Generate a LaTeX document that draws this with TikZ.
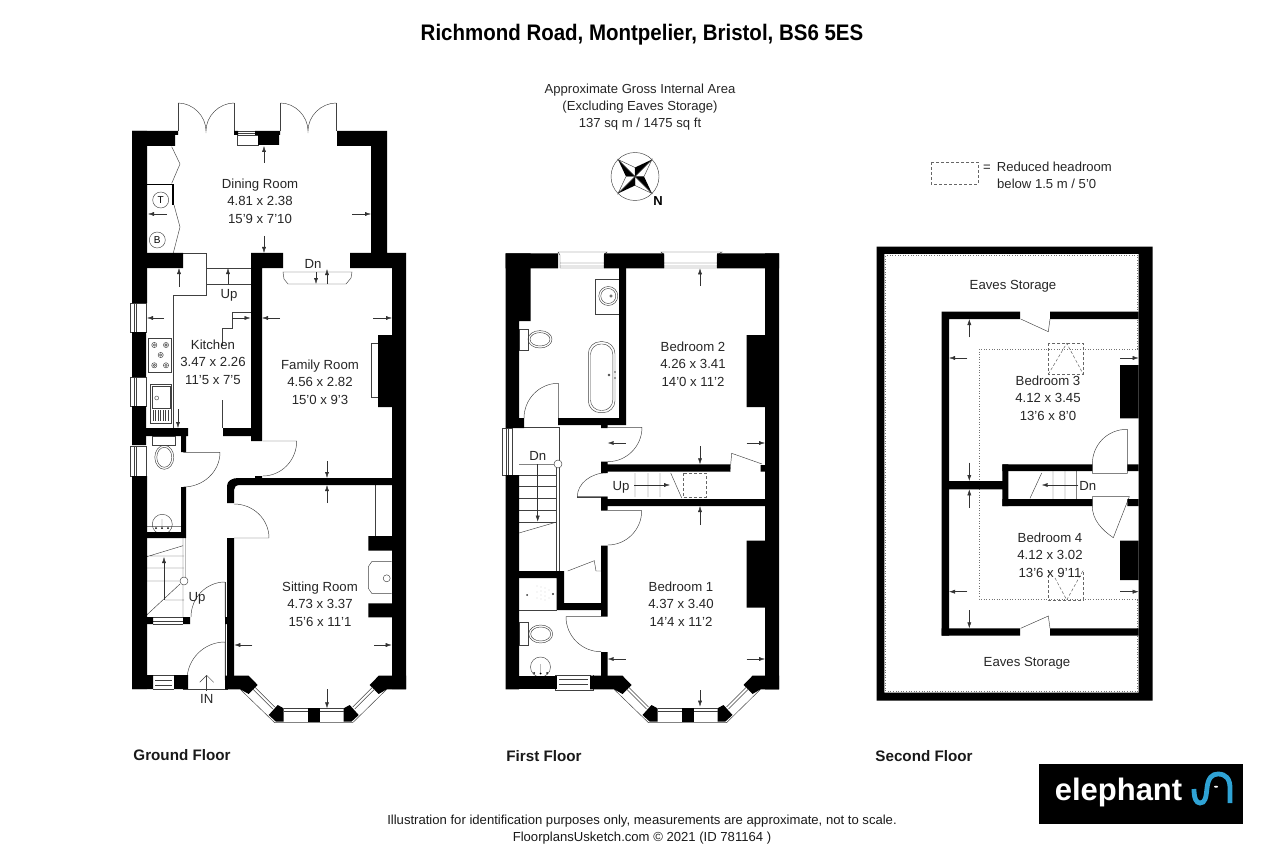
\documentclass[tikz,border=0pt]{standalone}
\usepackage{fontspec}
\setmainfont{Liberation Sans}
\usetikzlibrary{arrows.meta,calc}
\definecolor{logoblue}{HTML}{2FA3D5}
\tikzset{
    wall/.style={fill=black},
    fine/.style={line width=0.45pt, draw=black!75},
    dima/.style={line width=0.45pt, draw=black!80, -{Latex[length=6pt,width=4pt]}},
    headroom/.style={line width=0.6pt, draw=black!55, dotted},
    skylight/.style={line width=0.5pt, draw=black!60, densely dashed},
    roomlabel/.style={font=\fontsize{13.2}{17.4}\selectfont, align=center, inner sep=0pt, text=black!85},
    smalltext/.style={font=\fontsize{13.1}{17}\selectfont, align=center, inner sep=0pt, text=black!85},
    floorlabel/.style={font=\fontsize{15.2}{17}\selectfont\bfseries, inner sep=0pt, text=black!90}
}
% hinge, leaf vector, arc end vector
\newcommand{\doorleaf}[6]{\draw[fine] (#1,#2) -- (#1+#3,#2+#4) .. controls (#1+#3+0.552*#5,#2+#4+0.552*#6) and (#1+#5+0.552*#3,#2+#6+0.552*#4) .. (#1+#5,#2+#6);}
% centre, left end of wall, right end of wall
\newcommand{\baywindow}[3]{
    \begin{scope}[shift={(#1,0)}]
        \draw[fine] (-73.5,689.3) -- (-39,722.7) -- (39,722.7) -- (73,689.3);
        \fill[wall] (#2-#1,675.7) -- (-65,675.7) -- (-56,685) -- (-65,694) -- (-73.5,689.3) -- (#2-#1,689.3) -- cycle;
        \fill[wall] (#3-#1,675.7) -- (65,675.7) -- (56,685) -- (65,694) -- (73,689.3) -- (#3-#1,689.3) -- cycle;
        \fill[wall] (-45,715) -- (-36,705) -- (-30,708.3) -- (-30,721.7) -- (-37.7,721.7) -- cycle;
        \fill[wall] (45,715) -- (36,705) -- (30,708.3) -- (30,721.7) -- (37.7,721.7) -- cycle;
        \fill[wall] (-6,708.3) rectangle (6,721.7);
        \draw[fine] (-30,708.3) -- (-6,708.3) (-30,711.7) -- (-6,711.7) (6,708.3) -- (30,708.3) (6,711.7) -- (30,711.7);
        \draw[fine] (-59,687) -- (-39,707) (-61,689) -- (-41,709);
        \draw[fine] (59,687) -- (39,707) (61,689) -- (41,709);
    \end{scope}
}
\begin{document}
\begin{tikzpicture}[x=1pt,y=-1pt]
    \useasboundingbox (0,0) rectangle (1280,853);

    % headings
    \node[font=\fontsize{22.5}{25}\selectfont\bfseries, inner sep=0pt] (title) at (642,35) {\scalebox{0.91}[1]{Richmond Road, Montpelier, Bristol, BS6 5ES}};
    \node[smalltext] (area) at (640,107) {Approximate Gross Internal Area\\(Excluding Eaves Storage)\\137 sq m / 1475 sq ft};
    \draw[fine] (635,176.5) circle[radius=24];
    \foreach \a in {45,135,225,315} {
        \fill[black] (635,176.5) -- ++(\a:24) -- ($(635,176.5)+(\a-45:9)$) -- cycle;
        \draw[fine] (635,176.5) -- ++(\a:24) -- ($(635,176.5)+(\a+45:9)$) -- cycle;
    }
    \node[font=\fontsize{13}{15}\selectfont\bfseries, inner sep=0pt] (north) at (658,201) {N};
    \draw[skylight] (931,162) rectangle (978,184);
    \node[smalltext, anchor=west, align=left] (key) at (983,175.5) {=\hspace{6pt}Reduced headroom\\\hspace{14pt}below 1.5 m / 5'0};

    % ground floor, fittings
    \draw[fine] (178,131) -- (178,103) (234.3,131) -- (234.3,103) (280.3,131) -- (280.3,103) (336.3,131) -- (336.3,103);
    \draw[fine] (178,103) .. controls (193,103) and (206,116) .. (206,131) .. controls (206,116) and (219,103) .. (234.3,103);
    \draw[fine] (280.3,103) .. controls (295,103) and (308,116) .. (308,131) .. controls (308,116) and (321,103) .. (336.3,103);
    \draw[fine] (237,135) rectangle (258,145) (238,131) -- (255,131) (238,133) -- (255,133);
    \draw[fine] (171.7,146.7) -- (180,164) -- (171.7,183.3) (174,205) -- (180,227) -- (173.3,253);
    \draw[line width=1.4pt] (147,184.3) -- (173,184.3) -- (173,205);
    \draw[fine] (160.7,200) circle[radius=8] (157.3,240) circle[radius=8];
    \node[font=\fontsize{10}{12}\selectfont, inner sep=0pt] (tank) at (160.7,200) {T};
    \node[font=\fontsize{10}{12}\selectfont, inner sep=0pt] (boiler) at (157.3,240) {B};
    \draw[fine] (183,253) -- (206,253) -- (206,295) -- (173,295) -- (173,428);
    \draw[fine] (206,268) -- (251,268) (206,284) -- (251,284);
    \draw[fine] (251,312) -- (232,312) -- (232,328) -- (222,328) -- (222,346) (222,400) -- (222,428);
    \draw[fine] (283,272) -- (352,272) -- (351,278) -- (346,284) -- (288,284) -- (284,279) -- cycle;
    \draw[fine] (148.3,338.3) rectangle (171.7,372.7);
    \foreach \hobx/\hoby in {154.3/345,166/345,160.7/355,154.3/365.3,166/365.3} {
        \draw[fine] (\hobx,\hoby) circle[radius=2.6] (\hobx,\hoby) circle[radius=1.2];
    }
    \draw[fine] (150,384) rectangle (171.7,423) (152,386) rectangle (170,408);
    \draw[fine] (156.7,398) circle[radius=2];
    \foreach \dr in {153,155.5,...,169} {
        \draw[fine] (\dr,410) -- (\dr,421);
    }
    \draw[fine] (371,343) rectangle (378,397);
    \draw[fine] (130,303) rectangle (146,332) (134,303) -- (134,332) (136,303) -- (136,332);
    \draw[fine] (130,377) rectangle (146,406) (134,377) -- (134,406) (136,377) -- (136,406);
    \draw[fine] (130,446) rectangle (146,476) (134,446) -- (134,476) (136,446) -- (136,476);
    \draw[fine] (152.7,436) rectangle (175,445);
    \draw[fine] (164.3,457.3) ellipse[x radius=9.5, y radius=12] (164.3,457.3) ellipse[x radius=7.5, y radius=10];
    \draw[fine] (162.3,524.3) circle[radius=10] (146,526.7) -- (183,526.7) (162,519) -- (162,527);
    \fill[black] (156,528) circle[radius=1] (162,528) circle[radius=1] (168,528) circle[radius=1];
    \draw[fine] (146.7,556.7) -- (183,545.7) (146,568) -- (184,568) (146,556) -- (184,556) (146,581) -- (180,581);
    \draw[fine] (146.7,615) -- (180,584) (165,600) -- (184,600) (183,538) -- (183,617) (185.5,538) -- (185.5,577);
    \draw[dima] (164,600) -- (164,557);
    \draw[fill=white, fine] (184,581) circle[radius=4];
    \draw[fine] (153,617.5) -- (183,617.5) (153,621) -- (183,621) (153,624) -- (183,624);
    \draw[fine] (225,582) -- (225,680) (183,680) -- (183,689) -- (228,689);
    \draw[fine] (153,675.5) -- (174,675.5) (155,680) -- (172,680) (155,685) -- (172,685) (153,689) -- (174,689);
    \draw[fine, -{Straight Barb[length=7pt,width=14pt]}] (206.7,691) -- (206.7,675);
    \draw[fine] (375.3,485) -- (375.3,536);
    \draw[fine] (391.7,561.7) -- (371.7,561.7) -- (368.3,566.7) -- (368.3,588.3) -- (371.7,593.3) -- (391.7,593.3);
    \draw[fine] (386.7,578.3) circle[radius=3.5];
    \doorleaf{183.3}{452.3}{36.7}{0}{0}{34.7}
    \doorleaf{262.7}{441}{34}{0}{0}{35}
    \doorleaf{234}{538}{35}{0}{0}{-34}
    \doorleaf{225}{617}{0}{-35}{-34}{0}
    \doorleaf{225}{680}{0}{-38}{-38}{0}

    % ground floor, walls
    \fill[wall] (132,131) rectangle (147,303) (132,332) rectangle (146,377) (132,406) rectangle (146,445) (132,476) rectangle (147,689);
    \fill[wall] (132,131) rectangle (178,135) (132,135) rectangle (175,146);
    \fill[wall] (234,131) rectangle (238,135) (255,131) rectangle (280,135) (258,135) rectangle (279,145);
    \fill[wall] (337,131) rectangle (387,146) (371,145) rectangle (387,253) (350,253) rectangle (406,268) (392,268) rectangle (406,689);
    \fill[wall] (147,253) rectangle (183,268) (251,253) rectangle (283,268) (251,268) rectangle (262,441);
    \fill[wall] (223,428) rectangle (255,436) (146,428) rectangle (188,436) (181,436) rectangle (186,452);
    \fill[wall] (181,487) rectangle (186,538) (146,532) rectangle (186,538);
    \fill[wall] (255,476) rectangle (262,479) (227,538) rectangle (234,676);
    \fill[wall] (227,503) -- (227,486) .. controls (227,481) and (232,478) .. (238,478) -- (392,478) -- (392,485) -- (240,485) .. controls (236,485) and (234,487) .. (234,490) -- (234,503) -- cycle;
    \fill[wall] (146,617) rectangle (153,624) (183,617) rectangle (190,624) (225,617) rectangle (230,624);
    \fill[wall] (132,675) rectangle (153,689) (174,675) rectangle (188,689);
    \fill[wall] (378,335) rectangle (392,407) (368.3,536) rectangle (392,550.7) (368.3,603.3) rectangle (392,617.3);
    \baywindow{313.7}{225}{406}

    % ground floor, measures
    \draw[dima] (264,163) -- (264,146);
    \draw[dima] (167,214) -- (148,214);
    \draw[dima] (352,214) -- (371,214);
    \draw[dima] (264,236) -- (264,253);
    \draw[dima] (179,287) -- (179,268);
    \draw[dima] (164,318) -- (147,318);
    \draw[dima] (232,318) -- (250.5,318);
    \draw[dima] (178,409) -- (178,428);
    \draw[dima] (228,284) -- (228,268);
    \draw[dima] (280,318) -- (262,318);
    \draw[dima] (373,318) -- (392,318);
    \draw[dima] (327,461) -- (327,478);
    \draw[dima] (316,272) -- (316,284);
    \draw[dima] (327,284) -- (327,269);
    \draw[dima] (327,503) -- (327,485);
    \draw[dima] (252.3,645) -- (234.3,645);
    \draw[dima] (374,645) -- (391.7,645);
    \draw[dima] (327,689.3) -- (327,708.3);

    % ground floor, texts
    \node[roomlabel] (dining) at (260,201) {Dining Room\\4.81 x 2.38\\15'9 x 7'10};
    \node[roomlabel] (kitchen) at (213,362) {Kitchen\\3.47 x 2.26\\11'5 x 7'5};
    \node[roomlabel] (family) at (320,382) {Family Room\\4.56 x 2.82\\15'0 x 9'3};
    \node[roomlabel] (sitting) at (320,604) {Sitting Room\\4.73 x 3.37\\15'6 x 11'1};
    \node[roomlabel] (updining) at (229,295.5) {Up};
    \node[roomlabel] (dnfamily) at (313,264) {Dn};
    \node[roomlabel] (upground) at (197,598.5) {Up};
    \node[roomlabel] (entry) at (206.7,699) {IN};
    \node[floorlabel] (ground) at (182,755) {Ground Floor};

    % first floor, fittings
    \draw[fine] (558,252) -- (607,252) -- (604,255) -- (604,268) -- (560,268) -- (560,255) -- cycle (560,263) -- (604,263) (560,266) -- (604,266);
    \draw[fine] (661,252) -- (722,252) -- (717,255) -- (717,268) -- (664,268) -- (664,255) -- cycle (664,263) -- (717,263) (664,266) -- (717,266);
    \draw[fine] (595.7,279.3) rectangle (619,314);
    \draw[fine] (608.3,296) circle[radius=9.5] (608.3,296) circle[radius=7.5] (611,296) circle[radius=1.3];
    \draw[fine] (519.3,329.3) rectangle (528.3,350.7);
    \draw[fine] (540,339.3) ellipse[x radius=12, y radius=8.7] (540,339.3) ellipse[x radius=10, y radius=6.7];
    \draw[fine, rounded corners=12] (588.3,341.7) rectangle (615,412.7);
    \draw[fine, rounded corners=10.5] (590.5,344) rectangle (612.8,410.5);
    \fill[black!70] (609,375) circle[radius=1.4] (615,372) circle[radius=0.9] (615,378) circle[radius=0.9];
    \draw[fine] (502,428) rectangle (512,475) (506,428) -- (506,475) (508,428) -- (508,475);
    \draw[fine] (519,427.3) -- (559,427.3) -- (559,571) (556.7,464) -- (556.7,571);
    \foreach \st in {475,486.7,498,510.7,522} {
        \draw[fine] (519,\st) -- (556.7,\st);
    }
    \draw[fine] (519,464.3) -- (554,464.3) (519,533) -- (556.7,522);
    \draw[dima] (537.7,464) -- (537.7,521.7);
    \draw[fill=white, fine] (558,464) circle[radius=4];
    \draw[fine] (635,473) -- (635,497) (648,473) -- (648,497) (660,473) -- (660,497) (670.7,473) -- (681.7,498);
    \draw[fine] (577.3,497) -- (601,497);
    \draw[dima] (634,485) -- (670,485);
    \draw[skylight] (683,473) rectangle (706,497);
    \draw[fine] (730,472) -- (731.7,453.3) -- (762,464);
    \draw[fine] (567.7,571) -- (594.3,560.7) -- (596,571) (596,571) -- (601,571);
    \draw[fine] (519,610.5) -- (557,610.5);
    \fill[black!80] (527,595) circle[radius=1] (553,594) circle[radius=1.2];
    \foreach \spx/\spy in {549/590,549/598,545/588,545/592,545/596,545/600,541/587,541/591,541/595,541/599,537/586,537/592,537/598} {
        \fill[black!45] (\spx,\spy) circle[radius=0.45];
    }
    \draw[fine] (519.3,622.3) rectangle (528.3,645);
    \draw[fine] (540.7,634) ellipse[x radius=12, y radius=9] (540.7,634) ellipse[x radius=10, y radius=7];
    \draw[fine] (540.5,667) circle[radius=10] (540.5,664) -- (540.5,673);
    \fill[black] (534,673) circle[radius=1] (540.5,673.5) circle[radius=1] (547,673) circle[radius=1];
    \draw[fine] (556,675) -- (591,675) (559,679) -- (588,679) (559,684) -- (588,684) (555,690.5) -- (593,690.5) (555,675) -- (555,690.5) (593,675) -- (593,690.5);
    \doorleaf{558.3}{418.3}{0}{-35}{-34.3}{0}
    \doorleaf{607.7}{427.3}{34.3}{0}{0}{34.4}
    \doorleaf{607.7}{496.7}{-30.4}{0}{0}{-24}
    \doorleaf{607.7}{510.7}{34}{0}{0}{34.3}
    \doorleaf{601}{616.7}{-35}{0}{0}{35}

    % first floor, walls
    \fill[wall] (505.7,253.3) rectangle (558,268.3) (604,253.3) rectangle (664,268.3) (717,253.3) rectangle (779,268.3);
    \fill[wall] (505.7,253.3) rectangle (530.7,321) (505.7,321) rectangle (519,428) (505.7,475) rectangle (519,689.3);
    \fill[wall] (619,268) rectangle (626,425) (558,418) rectangle (626,425) (519,418) rectangle (524,428);
    \fill[wall] (765,253.3) rectangle (779,689.3) (746.7,335) rectangle (765,407) (746.7,540.7) rectangle (765,607.7);
    \fill[wall] (601,425) rectangle (607.7,428) (601,461.7) rectangle (607.7,473) (607.7,464.3) rectangle (730,471.7) (760.7,465) rectangle (765,471.7);
    \fill[wall] (601,497) rectangle (607.7,510.7) (607.7,499) rectangle (765,506);
    \fill[wall] (601,545.7) rectangle (607.7,616.7) (601,652) rectangle (607.7,676);
    \fill[wall] (519,571) rectangle (563.3,578) (556.7,571) rectangle (564,610) (557,603) rectangle (601,610);
    \fill[wall] (505.7,675.7) rectangle (556.7,689.3);
    \baywindow{687.5}{590}{779}

    % first floor, measures
    \draw[dima] (700,286) -- (700,268.3);
    \draw[dima] (625.7,443) -- (607.7,443);
    \draw[dima] (746.7,443) -- (765,443);
    \draw[dima] (700,446) -- (700,464.3);
    \draw[dima] (700,525) -- (700,506);
    \draw[dima] (625.7,659) -- (607.7,659);
    \draw[dima] (746.7,659) -- (765,659);
    \draw[dima] (700,690) -- (700,706.7);

    % first floor, texts
    \node[roomlabel] (bedtwo) at (693,364) {Bedroom 2\\4.26 x 3.41\\14'0 x 11'2};
    \node[roomlabel] (bedone) at (681,604) {Bedroom 1\\4.37 x 3.40\\14'4 x 11'2};
    \node[roomlabel] (dnfirst) at (537.7,456) {Dn};
    \node[roomlabel] (upfirst) at (621,487) {Up};
    \node[floorlabel] (first) at (544,756) {First Floor};

    % second floor, fittings
    \draw[headroom] (1137.7,349) -- (1137.7,255.7) -- (885.7,255.7) -- (885.7,691) -- (1137.7,691) -- (1137.7,599);
    \draw[headroom] (1137.7,349) -- (979,349) -- (979,599) -- (1137.7,599);
    \draw[skylight] (1048.3,343.3) rectangle (1083.3,374.3);
    \draw[skylight] (1048.3,374.3) -- (1066.7,343.3) -- (1083.3,374.3);
    \draw[skylight] (1048.3,570) -- (1048.3,600) -- (1083.3,600) -- (1083.3,570);
    \draw[skylight] (1055,578) -- (1066.7,600) -- (1083.3,570);
    \draw[fine] (1020.7,319) -- (1048.3,331.7) -- (1050,319);
    \draw[fine] (1020.7,628.3) -- (1048.3,616) -- (1050,628.3);
    \draw[fine] (1053,471) -- (1053,499) (1065,471) -- (1065,499) (1076.7,471) -- (1076.7,499) (1041.7,473) -- (1030,498.3);
    \draw[fine] (1092.3,473.3) -- (1127.3,473.3) -- (1127.3,429.3) .. controls (1107,429.3) and (1092.3,445) .. (1092.3,464.3) -- (1092.3,473.3);
    \draw[fine] (1092.3,496.7) -- (1129.3,496.7) -- (1113.3,537.7) .. controls (1102,530) and (1092.3,520) .. (1092.3,506) -- (1092.3,496.7);
    \draw[dima] (1078.3,485) -- (1041.7,485);

    % second floor, walls
    \fill[wall, even odd rule] (876.7,246.7) rectangle (1152.7,700.7) (884.3,254) rectangle (1138.7,692.7);
    \fill[wall] (941.7,311.7) rectangle (949,635.7) (941.7,311.7) rectangle (1020,319) (1050,311.7) rectangle (1138.7,319);
    \fill[wall] (941.7,628.3) rectangle (1020,635.7) (1050,628.3) rectangle (1138.7,635.7);
    \fill[wall] (949,481) rectangle (1002,489.3) (1002.3,464.3) rectangle (1008.3,506);
    \fill[wall] (1002.3,464.3) rectangle (1092.3,471) (1127.3,464.3) rectangle (1138.7,471);
    \fill[wall] (1002.3,499) rectangle (1092.3,506) (1127.3,499) rectangle (1138.7,506);
    \fill[wall] (1120,365) rectangle (1138.7,418.3) (1120,540.7) rectangle (1138.7,580);

    % second floor, measures
    \draw[dima] (969.3,337.3) -- (969.3,319);
    \draw[dima] (967.3,358) -- (949,358);
    \draw[dima] (1120,358) -- (1138.7,358);
    \draw[dima] (969.3,462.7) -- (969.3,481);
    \draw[dima] (969.3,507.7) -- (969.3,489.3);
    \draw[dima] (967.3,591.7) -- (949,591.7);
    \draw[dima] (1120,591.7) -- (1138.7,591.7);
    \draw[dima] (969.3,610) -- (969.3,628.3);

    % second floor, texts
    \node[roomlabel] (eavestop) at (1013,286.5) {Eaves Storage};
    \node[roomlabel] (eavesbottom) at (1027,663.5) {Eaves Storage};
    \node[roomlabel] (bedthree) at (1048,398) {Bedroom 3\\4.12 x 3.45\\13'6 x 8'0};
    \node[roomlabel] (bedfour) at (1050,555) {Bedroom 4\\4.12 x 3.02\\13'6 x 9'11};
    \node[roomlabel] (dnsecond) at (1087.7,485.7) {Dn};
    \node[floorlabel] (second) at (924,756) {Second Floor};

    % footer and logo
    \node[smalltext, text=black!90] (notes) at (642,830) {Illustration for identification purposes only, measurements are approximate, not to scale.\\FloorplansUsketch.com © 2021 (ID 781164 )};
    \fill[black] (1039.3,764.3) rectangle (1242.7,824);
    \node[font=\fontsize{31}{33}\selectfont\bfseries, text=white, inner sep=0pt] (logotext) at (1118.5,792.5) {elephant};
    \draw[logoblue, line width=4.8pt] (1194,789) .. controls (1194,798) and (1196,803) .. (1200,803) .. controls (1205,803) and (1206,798) .. (1207,788) .. controls (1208,778) and (1212,774) .. (1218,774) .. controls (1226,774) and (1230,779) .. (1230,788) -- (1230,803);
    \fill[white] (1216,786.7) ellipse[x radius=2, y radius=1];
\end{tikzpicture}
\end{document}
